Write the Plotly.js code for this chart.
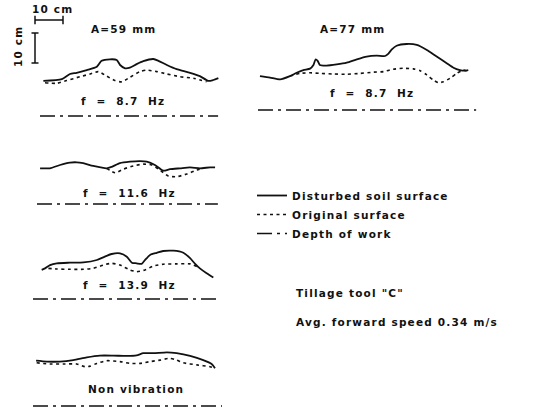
<!DOCTYPE html>
<html><head><meta charset="utf-8">
<script src="https://cdn.plot.ly/plotly-3.0.1.min.js"></script>
<style>
html,body{margin:0;padding:0;background:#fff;}
#chart{width:533px;height:411px;}
svg text { letter-spacing: 1.2px; }
</style></head><body><div id="chart"></div>
<script>
// ---------- DATA (cm; y measured upward from the depth-of-work line) ----------
// Panel 1: A=59 mm, f = 8.7 Hz
const p1DistX = [1.2,7.8,10.7,13.1,16.7,20.3,22.0,25.0,27.4,28.6,30.4,32.1,34.5,36.9,40.5,42.3,45.3,48.8,53.6,57.1,60.1,61.9,63.7];
const p1DistY = [11.7,12.3,14.0,14.4,15.3,16.4,18.4,18.9,18.7,17.0,15.9,16.1,17.3,18.3,19.0,18.4,17.0,15.6,14.4,13.3,11.7,12.0,12.6];
const p1OrigX = [1.8,6.0,9.5,14.3,17.9,20.8,23.8,26.8,29.2,32.1,35.7,38.1,41.7,45.3,50.0,54.8,59.5];
const p1OrigY = [11.1,10.9,11.8,13.1,14.0,14.8,13.3,11.8,11.4,12.9,14.8,15.3,14.8,14.0,13.1,12.6,11.4];
const p1DepthX = [0,63.6], p1DepthY = [0,0];
// Panel 2: A=77 mm, f = 8.7 Hz
const p2DistX = [0.7,4.3,7.9,11.4,13.8,16.2,18.6,19.8,20.6,21.3,22.1,24.5,28.1,31.7,35.3,38.8,42.4,45.4,46.5,47.8,49.5,53.1,56.7,60.3,63.8,67.4,69.8,72.1,73.9,75.1];
const p2DistY = [11.3,10.8,10.2,11.3,12.4,13.3,13.8,15.0,16.9,16.4,15.0,14.8,15.2,15.8,16.9,17.8,18.1,18.0,18.7,20.2,21.4,22.0,21.7,20.0,17.8,15.6,14.1,13.3,13.1,13.3];
const p2OrigX = [11.4,15.0,18.6,22.1,26.9,31.7,36.4,41.2,44.8,48.3,51.9,55.5,57.9,60.3,62.6,64.4,66.2,68.6,71.0,73.3,74.5];
const p2OrigY = [11.3,12.2,12.4,12.2,12.0,11.9,12.2,12.6,12.8,13.6,13.9,13.7,13.1,11.7,10.0,9.1,9.4,10.6,12.2,13.3,13.1];
const p2DepthX = [0,77.9], p2DepthY = [0,0];
// Panel 3: f = 11.6 Hz
const p3DistX = [1.1,4.6,8.2,11.8,14.2,16.5,20.1,24.9,26.7,29.6,33.2,36.8,39.2,42.1,45.1,47.5,51.1,54.6,58.2,61.8,63.6];
const p3DistY = [11.9,11.9,13.0,13.8,13.9,13.6,12.7,11.9,12.4,13.6,14.1,14.3,14.1,13.0,11.1,11.6,11.9,12.2,11.9,12.2,12.2];
const p3OrigX = [24.9,27.9,30.8,34.4,38.0,41.0,43.9,46.9,49.9,53.5,57.0,59.4];
const p3OrigY = [11.9,10.4,11.6,12.7,13.3,13.0,11.3,9.3,9.1,10.0,11.3,11.9];
const p3DepthX = [0,64.6], p3DepthY = [0,0];
// Panel 4: f = 13.9 Hz
const p4DistX = [3.1,4.3,6.1,8.5,13.2,18.0,22.8,25.1,28.1,31.1,33.5,35.3,37.0,38.8,40.0,41.8,44.2,46.5,50.1,53.7,56.1,57.9,59.6,62.0,64.4];
const p4DistY = [9.7,10.2,11.3,11.9,12.1,12.2,13.0,13.9,15.0,15.2,14.1,12.1,11.9,11.7,13.0,14.7,15.4,16.0,16.1,15.4,13.6,11.7,10.2,8.6,7.2];
const p4OrigX = [5.5,8.5,13.2,18.0,21.5,25.1,28.1,31.1,34.6,37.0,40.0,43.0,46.5,51.3,56.1,58.5];
const p4OrigY = [10.2,10.0,9.9,9.9,10.2,11.3,11.9,11.3,9.7,9.1,9.7,11.0,11.6,11.7,11.7,10.8];
const p4DepthX = [0,66.8], p4DepthY = [0,0];
// Panel 5: Non vibration
const p5DistX = [1.1,4.9,9.6,14.4,19.2,23.9,28.7,33.5,37.0,39.4,43.0,47.8,51.3,56.1,60.8,63.8,65.0];
const p5DistY = [15.1,14.8,14.8,15.3,16.2,16.8,16.8,16.7,16.9,17.6,17.6,17.9,17.6,16.7,15.3,14.0,12.6];
const p5OrigX = [1.3,6.1,10.8,15.6,18.6,20.4,22.8,26.3,31.1,34.6,38.2,41.8,45.4,48.9,51.3,53.7,58.5,63.2,65.0];
const p5OrigY = [14.4,14.0,14.0,14.0,13.1,13.3,14.2,15.1,14.8,14.2,14.2,14.8,15.3,15.9,15.3,14.4,13.7,13.1,12.6];
const p5DepthX = [0,67.5], p5DepthY = [0,0];
// Scale bars (cm)
const scaleLen = [0,10], scaleZero = [0,0];

const NB = '\u00A0';
const panelLabels = ["f"+NB+" ="+NB+" 8.7"+NB+" Hz","f"+NB+" ="+NB+" 8.7"+NB+" Hz","f"+NB+" ="+NB+" 11.6"+NB+" Hz","f"+NB+" ="+NB+" 13.9"+NB+" Hz","Non vibration"];
const ampLabels = ["A=59 mm","A=77 mm"];
const legendNames = ["Disturbed soil surface","Original surface","Depth of work"];
const noteLines = ['Tillage tool "C"','Avg. forward speed 0.34 m/s'];

// ---------- LAYOUT ----------
const W = 533, H = 411, SX = 2.8, SY = 3.0;
const INK = '#111';
const FONT = {family:'DejaVu Sans, sans-serif', size:10.5, color:INK, weight:'bold'};
const layout = {
  width:W, height:H, margin:{l:0,r:0,t:0,b:0},
  paper_bgcolor:'#fff', plot_bgcolor:'rgba(0,0,0,0)',
  showlegend:true,
  legend:{x:252/W, y:1-181/H, xanchor:'left', yanchor:'top', font:FONT, bgcolor:'rgba(0,0,0,0)', traceorder:'normal', itemwidth:30, tracegroupgap:0},
  annotations:[]
};
function axes(n, ox, oy, left, right, top, bottom){
  const s = n===1 ? '' : String(n);
  layout['xaxis'+s] = {domain:[left/W,right/W], range:[(left-ox)/SX,(right-ox)/SX], visible:false, anchor:'y'+s, fixedrange:true};
  layout['yaxis'+s] = {domain:[1-bottom/H,1-top/H], range:[(oy-bottom)/SY,(oy-top)/SY], visible:false, anchor:'x'+s, fixedrange:true};
  return ['x'+s,'y'+s];
}
const ax = [
  axes(1, 40, 116, 30, 230, 40, 125),
  axes(2, 258, 110, 250, 482, 35, 118),
  axes(3, 37, 204, 28, 232, 145, 212),
  axes(4, 33, 299, 26, 234, 240, 306),
  axes(5, 33, 406, 26, 234, 340, 410),
  axes(6, 35, 20, 28, 72, 12, 28),   // horizontal scale bar
  axes(7, 35, 63, 25, 45, 28, 70)    // vertical scale bar
];

const dist = [[p1DistX,p1DistY],[p2DistX,p2DistY],[p3DistX,p3DistY],[p4DistX,p4DistY],[p5DistX,p5DistY]];
const orig = [[p1OrigX,p1OrigY],[p2OrigX,p2OrigY],[p3OrigX,p3OrigY],[p4OrigX,p4OrigY],[p5OrigX,p5OrigY]];
const depth = [[p1DepthX,p1DepthY],[p2DepthX,p2DepthY],[p3DepthX,p3DepthY],[p4DepthX,p4DepthY],[p5DepthX,p5DepthY]];

const traces = [];
const styles = [
  {w:1.8, dash:'solid'},
  {w:1.6, dash:'3px,3.5px'},
  {w:1.5, dash:'15px,5px,3px,5px'}
];
[dist, orig, depth].forEach((set, k) => {
  set.forEach((d, i) => {
    traces.push({
      type:'scatter', mode:'lines', x:d[0], y:d[1], xaxis:ax[i][0], yaxis:ax[i][1],
      line:{color:INK, width:styles[k].w, dash:styles[k].dash, shape:'spline', smoothing:0.6},
      name:legendNames[k], legendgroup:legendNames[k], showlegend:i===0, hoverinfo:'skip'
    });
  });
});
traces.push({type:'scatter', mode:'lines+markers', x:scaleLen, y:scaleZero, xaxis:ax[5][0], yaxis:ax[5][1],
  line:{color:INK,width:1.5}, marker:{symbol:'line-ns', size:6, line:{color:INK,width:1.5}}, showlegend:false, hoverinfo:'skip'});
traces.push({type:'scatter', mode:'lines+markers', x:scaleZero, y:scaleLen, xaxis:ax[6][0], yaxis:ax[6][1],
  line:{color:INK,width:1.5}, marker:{symbol:'line-ew', size:5, line:{color:INK,width:1.5}}, showlegend:false, hoverinfo:'skip'});

function note(text, px, py, anchor, angle){
  layout.annotations.push({text:text, xref:'paper', yref:'paper', x:px/W, y:1-py/H,
    xanchor:anchor||'center', yanchor:'middle', showarrow:false, font:FONT, textangle:angle||0, borderpad:0});
}
note('10 cm', 52, 9);
note('10 cm', 18, 47, 'center', -90);
note(ampLabels[0], 123, 29);
note(ampLabels[1], 352, 29);
note(panelLabels[0], 123, 101);
note(panelLabels[1], 372, 93);
note(panelLabels[2], 129, 193);
note(panelLabels[3], 129, 285);
note(panelLabels[4], 136, 389);
note(noteLines[0], 295, 293, 'left');
note(noteLines[1], 295, 322, 'left');

Plotly.newPlot('chart', traces, layout, {staticPlot:true, displayModeBar:false});
</script></body></html>
